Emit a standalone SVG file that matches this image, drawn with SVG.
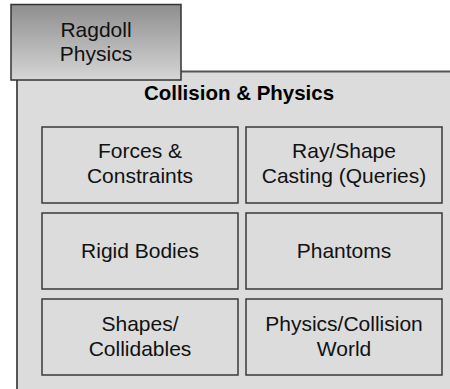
<svg xmlns="http://www.w3.org/2000/svg" width="450" height="389" viewBox="0 0 450 389">
  <defs>
    <linearGradient id="rg" x1="0" y1="0" x2="0" y2="1">
      <stop offset="0" stop-color="#8e8e8e"/>
      <stop offset="1" stop-color="#d6d6d6"/>
    </linearGradient>
    <style>
      .lbl { font-family: "Liberation Sans", Arial, sans-serif; font-size: 21px; fill: #111; text-anchor: middle; }
      .ttl { font-family: "Liberation Sans", Arial, sans-serif; font-size: 20.5px; font-weight: bold; fill: #000; text-anchor: middle; }
      .box { fill: #dcdcdc; stroke: #3a3a3a; stroke-width: 1.5; }
    </style>
  </defs>
  <rect width="450" height="389" fill="#ffffff"/>
  <g id="collision-physics">
    <rect x="17" y="71.5" width="450" height="340" fill="#dcdcdc" stroke="#555555" stroke-width="2"/>
    <text class="ttl" x="239" y="100">Collision &amp; Physics</text>
  </g>
  <g id="ragdoll">
    <rect x="11" y="4.5" width="170" height="75.5" fill="url(#rg)" stroke="#333333" stroke-width="1.5"/>
    <text class="lbl" x="96" y="37">Ragdoll</text>
    <text class="lbl" x="96" y="61">Physics</text>
  </g>
  <g id="forces">
    <rect class="box" x="42" y="127" width="196" height="76"/>
    <text class="lbl" x="140" y="158">Forces &amp;</text>
    <text class="lbl" x="140" y="183">Constraints</text>
  </g>
  <g id="casting">
    <rect class="box" x="246" y="127" width="196" height="76"/>
    <text class="lbl" x="344" y="158">Ray/Shape</text>
    <text class="lbl" x="344" y="183">Casting (Queries)</text>
  </g>
  <g id="rigid">
    <rect class="box" x="42" y="213" width="196" height="76"/>
    <text class="lbl" x="140" y="258">Rigid Bodies</text>
  </g>
  <g id="phantoms">
    <rect class="box" x="246" y="213" width="196" height="76"/>
    <text class="lbl" x="344" y="258">Phantoms</text>
  </g>
  <g id="shapes">
    <rect class="box" x="42" y="299" width="196" height="76"/>
    <text class="lbl" x="140" y="331">Shapes/</text>
    <text class="lbl" x="140" y="356">Collidables</text>
  </g>
  <g id="world">
    <rect class="box" x="246" y="299" width="196" height="76"/>
    <text class="lbl" x="344" y="331">Physics/Collision</text>
    <text class="lbl" x="344" y="356">World</text>
  </g>
  <g id="connectors"></g>
</svg>
